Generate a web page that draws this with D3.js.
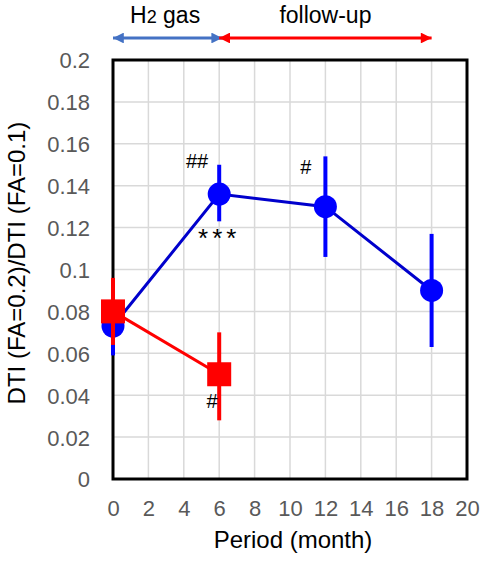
<!DOCTYPE html>
<html><head><meta charset="utf-8">
<script src="https://cdn.jsdelivr.net/npm/d3@7"></script>
<style>body{margin:0;background:#fff}svg{display:block}</style>
</head><body>
<script>
// Data
const months = [0, 6, 12, 18];
const blueMean = [0.073, 0.136, 0.130, 0.090];
const blueLow  = [0.059, 0.123, 0.106, 0.063];
const blueHigh = [0.087, 0.150, 0.154, 0.117];
const redMonths = [0, 6];
const redMean = [0.080, 0.050];
const redLow  = [0.064, 0.028];
const redHigh = [0.096, 0.070];
const xTicks = [0,2,4,6,8,10,12,14,16,18,20];
const yTicks = [0,0.02,0.04,0.06,0.08,0.1,0.12,0.14,0.16,0.18,0.2];
const annotations = [
  {x: 4.75, y: 0.152, t: "##"},
  {x: 6.0, y: 0.115, t: "***"},
  {x: 10.9, y: 0.149, t: "#"},
  {x: 5.6, y: 0.037, t: "#"}
];
const phases = [
  {from: 0, to: 6, label: "H2 gas", color: "#4472C4"},
  {from: 6, to: 18, label: "follow-up", color: "#FF0000"}
];

const W = 483, H = 562;
const m = {l: 113, r: 16, t: 60, b: 83};
const FONT = "'Liberation Sans', Arial, sans-serif";
const svg = d3.select("body").append("svg").attr("width", W).attr("height", H)
  .style("font-family", FONT);
const x = d3.scaleLinear().domain([0, 20]).range([m.l, W - m.r]);
const y = d3.scaleLinear().domain([0, 0.2]).range([H - m.b, m.t]);

// Grid
svg.append("g").selectAll("line.h").data(yTicks).join("line")
  .attr("x1", x(0)).attr("x2", x(20)).attr("y1", d => y(d)).attr("y2", d => y(d))
  .attr("stroke", "#d9d9d9").attr("stroke-width", 1.5);
svg.append("g").selectAll("line.v").data(xTicks).join("line")
  .attr("y1", y(0)).attr("y2", y(0.2)).attr("x1", d => x(d)).attr("x2", d => x(d))
  .attr("stroke", "#d9d9d9").attr("stroke-width", 1.5);

// Axes (labels only)
const yAxis = d3.axisLeft(y).tickValues(yTicks).tickSize(0).tickPadding(23)
  .tickFormat(d => String(+d.toFixed(2)));
const gy = svg.append("g").attr("transform", `translate(${x(0)},0)`).call(yAxis);
gy.select(".domain").remove();
gy.selectAll("text").attr("fill", "#595959").style("font-size", "22px")
  .style("font-family", FONT).attr("dy", "0.36em");

const xAxis = d3.axisBottom(x).tickValues(xTicks).tickSize(0).tickPadding(21).tickFormat(d3.format("d"));
const gx = svg.append("g").attr("transform", `translate(0,${y(0)})`).call(xAxis);
gx.select(".domain").remove();
gx.selectAll("text").attr("fill", "#595959").style("font-size", "22px")
  .style("font-family", FONT);

// Frame
svg.append("rect").attr("x", x(0)).attr("y", y(0.2)).attr("width", x(20) - x(0)).attr("height", y(0) - y(0.2))
  .attr("fill", "none").attr("stroke", "#000").attr("stroke-width", 3);

// Titles
svg.append("text").attr("x", 293).attr("y", 548).attr("text-anchor", "middle")
  .style("font-size", "24px").attr("fill", "#000").text("Period (month)");
svg.append("text").attr("transform", `translate(25,263) rotate(-90)`).attr("text-anchor", "middle")
  .style("font-size", "24px").attr("fill", "#000").text("DTI (FA=0.2)/DTI (FA=0.1)");

// Series
const line = d3.line().x(d => x(d[0])).y(d => y(d[1]));
const redPts = redMonths.map((d, i) => [d, redMean[i]]);
const bluePts = months.map((d, i) => [d, blueMean[i]]);

svg.append("path").datum(bluePts).attr("d", line).attr("fill", "none").attr("stroke", "#0000CC").attr("stroke-width", 3);
svg.append("g").selectAll("line").data(months).join("line")
  .attr("x1", d => x(d)).attr("x2", d => x(d))
  .attr("y1", (d, i) => y(blueLow[i])).attr("y2", (d, i) => y(blueHigh[i]))
  .attr("stroke", "#0000FF").attr("stroke-width", 4);
svg.append("g").selectAll("circle").data(bluePts).join("circle")
  .attr("cx", d => x(d[0])).attr("cy", d => y(d[1])).attr("r", 11.5).attr("fill", "#0000FF");

svg.append("path").datum(redPts).attr("d", line).attr("fill", "none").attr("stroke", "#FF0000").attr("stroke-width", 3);
svg.append("g").selectAll("line").data(redMonths).join("line")
  .attr("x1", d => x(d)).attr("x2", d => x(d))
  .attr("y1", (d, i) => y(redLow[i])).attr("y2", (d, i) => y(redHigh[i]))
  .attr("stroke", "#FF0000").attr("stroke-width", 4);
svg.append("g").selectAll("rect").data(redPts).join("rect")
  .attr("x", d => x(d[0]) - 12).attr("y", d => y(d[1]) - 12).attr("width", 24).attr("height", 24).attr("fill", "#FF0000");

// Annotations
svg.append("g").selectAll("text").data(annotations).join("text")
  .attr("x", d => x(d.x)).attr("y", d => y(d.y)).attr("text-anchor", "middle")
  .attr("dy", "0.35em")
  .style("font-size", d => d.t === "***" ? "26px" : "20px")
  .style("letter-spacing", d => d.t === "***" ? "4px" : "0px")
  .attr("fill", "#000").text(d => d.t);

// Phase arrows
const defs = svg.append("defs");
phases.forEach((p, i) => {
  ["s", "e"].forEach(k => {
    defs.append("marker").attr("id", `m${i}${k}`).attr("viewBox", "0 0 10 10")
      .attr("refX", k === "e" ? 10 : 0).attr("refY", 5).attr("markerWidth", 4.2).attr("markerHeight", 3.6)
      .attr("markerUnits", "strokeWidth").attr("orient", "auto")
      .append("path").attr("d", k === "e" ? "M0,0 L10,5 L0,10 Z" : "M10,0 L0,5 L10,10 Z").attr("fill", p.color);
  });
});
const ay = 38;
svg.append("g").selectAll("line").data(phases).join("line")
  .attr("x1", d => x(d.from)).attr("x2", d => x(d.to) + (d.to === 6 ? 3 : 0))
  .attr("y1", ay).attr("y2", ay)
  .attr("stroke", d => d.color).attr("stroke-width", 3)
  .attr("marker-start", (d, i) => `url(#m${i}s)`).attr("marker-end", (d, i) => `url(#m${i}e)`);
const lab = svg.append("g").selectAll("text").data(phases).join("text")
  .attr("x", d => (x(d.from) + x(d.to)) / 2 - (d.label === "H2 gas" ? 1 : 0)).attr("y", 23).attr("text-anchor", "middle")
  .style("font-size", "23px").attr("fill", "#000");
lab.each(function(d) {
  const t = d3.select(this);
  if (d.label === "H2 gas") {
    t.append("tspan").text("H");
    t.append("tspan").style("font-size", "18px").text("2");
    t.append("tspan").text(" gas");
  } else t.text(d.label);
});
</script>
</body></html>
